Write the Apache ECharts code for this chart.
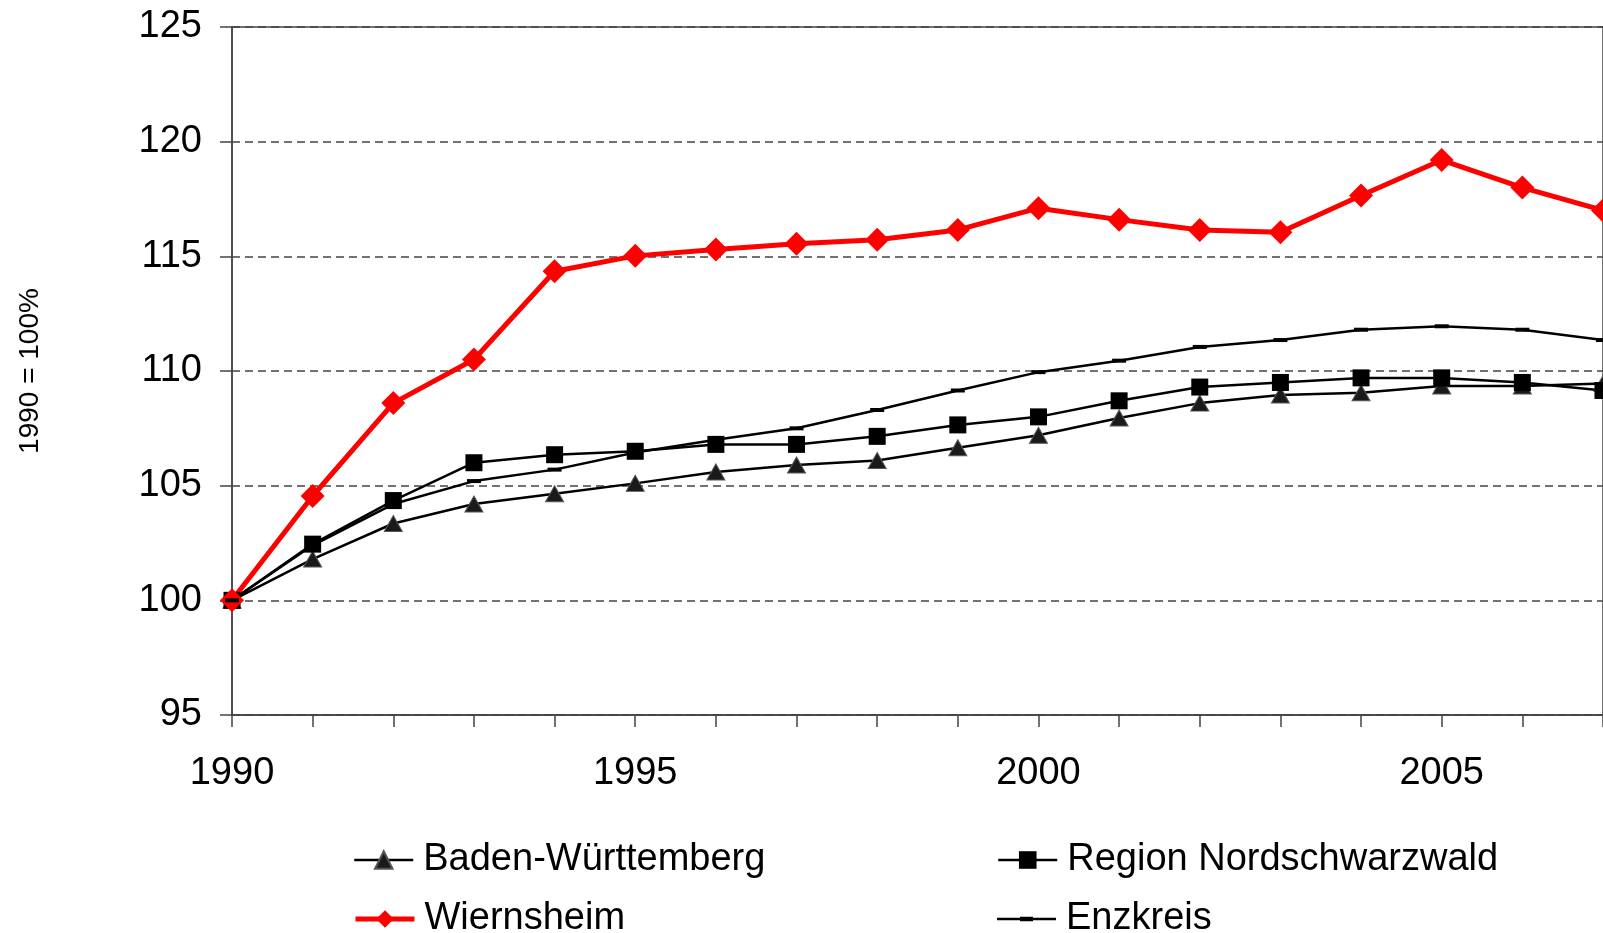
<!DOCTYPE html>
<html>
<head>
<meta charset="utf-8">
<title>1990 = 100%</title>
<script src="https://cdn.jsdelivr.net/npm/echarts@6/dist/echarts.min.js"></script>
<style>
    html, body { margin: 0; padding: 0; background: #fff; }
    #main { width: 1603px; height: 933px; }
</style>
</head>
<body>
<div id="main"></div>
<script>
// Jahre (x-Achse)
var years = ['1990', '1991', '1992', '1993', '1994', '1995', '1996', '1997', '1998',
    '1999', '2000', '2001', '2002', '2003', '2004', '2005', '2006', '2007'];

// Index, 1990 = 100
var badenWuerttemberg = [100, 101.8, 103.35, 104.2, 104.65, 105.1, 105.6, 105.9, 106.1,
    106.65, 107.2, 107.95, 108.6, 108.95, 109.05, 109.35, 109.35, 109.45];
var regionNordschwarzwald = [100, 102.45, 104.35, 106.0, 106.35, 106.5, 106.8, 106.8, 107.15,
    107.65, 108.0, 108.7, 109.3, 109.5, 109.7, 109.7, 109.5, 109.15];
var wiernsheim = [100, 104.55, 108.6, 110.5, 114.35, 115.02, 115.3, 115.55, 115.72,
    116.15, 117.1, 116.6, 116.15, 116.05, 117.65, 119.2, 118.0, 117.0];
var enzkreis = [100, 102.4, 104.2, 105.2, 105.7, 106.45, 107.0, 107.5, 108.3,
    109.15, 109.95, 110.45, 111.05, 111.35, 111.8, 111.95, 111.8, 111.35];

var yMin = 95, yMax = 125, yStep = 5;

window.onload = function () {
    var chart = echarts.init(document.getElementById('main'));
    var font = 'Liberation Sans, Arial, sans-serif';

    // ein Legendeneintrag pro Komponente, 2 Spalten x 2 Zeilen
    function legendItem(name, left, top, lineWidth, icon) {
        var item = { name: name, lineStyle: { width: lineWidth } };
        if (icon) item.icon = icon;
        return {
            left: left,
            top: top,
            itemWidth: 59,
            itemHeight: 22,
            textStyle: { fontSize: 38, color: '#000', padding: [0, 0, 0, 5] },
            data: [item]
        };
    }

    // Linie mit kurzem Strich (Enzkreis)
    var dashIcon = 'path://M0,10L59,10L59,12.5L0,12.5Z M23,9L36,9L36,13.5L23,13.5Z';

    chart.setOption({
        animation: false,
        textStyle: { fontFamily: font },
        grid: {
            left: 232,
            top: 27,
            bottom: 218,
            right: -6,
            show: true,
            borderColor: '#444',
            borderWidth: 1.5
        },
        legend: [
            legendItem('Baden-Württemberg', 348, 836, 2.5),
            legendItem('Wiernsheim', 348, 895, 5),
            legendItem('Region Nordschwarzwald', 992, 836, 2.5),
            legendItem('Enzkreis', 992, 895, 2.5, dashIcon)
        ],
        xAxis: {
            type: 'category',
            boundaryGap: false,
            data: years,
            axisLine: { lineStyle: { color: '#444', width: 1.5 } },
            axisTick: { interval: 0, length: 12, lineStyle: { color: '#444', width: 1.5 } },
            axisLabel: { interval: 4, fontSize: 38, color: '#000', margin: 40 },
            splitLine: { show: false }
        },
        yAxis: {
            type: 'value',
            min: yMin,
            max: yMax,
            interval: yStep,
            name: '1990 = 100%',
            nameLocation: 'middle',
            nameRotate: 90,
            nameGap: 188,
            nameTextStyle: { fontSize: 28, color: '#000' },
            axisLine: { show: true, lineStyle: { color: '#444', width: 1.5 } },
            axisTick: { show: true, length: 12, lineStyle: { color: '#444', width: 1.5 } },
            axisLabel: { fontSize: 38, color: '#000', margin: 30 },
            splitLine: {
                lineStyle: { color: '#444', width: 1.5, type: [8, 5] }
            }
        },
        series: [{
            name: 'Baden-Württemberg',
            type: 'line',
            data: badenWuerttemberg,
            symbol: 'triangle',
            symbolSize: [18, 16],
            lineStyle: { color: '#000', width: 2.5 },
            itemStyle: { color: '#1a1a1a', borderColor: '#555', borderWidth: 1 }
        }, {
            name: 'Region Nordschwarzwald',
            type: 'line',
            data: regionNordschwarzwald,
            symbol: 'rect',
            symbolSize: 17,
            lineStyle: { color: '#000', width: 2.5 },
            itemStyle: { color: '#000' }
        }, {
            name: 'Wiernsheim',
            type: 'line',
            data: wiernsheim,
            symbol: 'diamond',
            symbolSize: 24,
            lineStyle: { color: '#ff0000', width: 5 },
            itemStyle: { color: '#ff0000' }
        }, {
            name: 'Enzkreis',
            type: 'line',
            data: enzkreis,
            symbol: 'rect',
            symbolSize: [14, 4],
            lineStyle: { color: '#000', width: 2.5 },
            itemStyle: { color: '#000' }
        }]
    });
};
</script>
</body>
</html>
